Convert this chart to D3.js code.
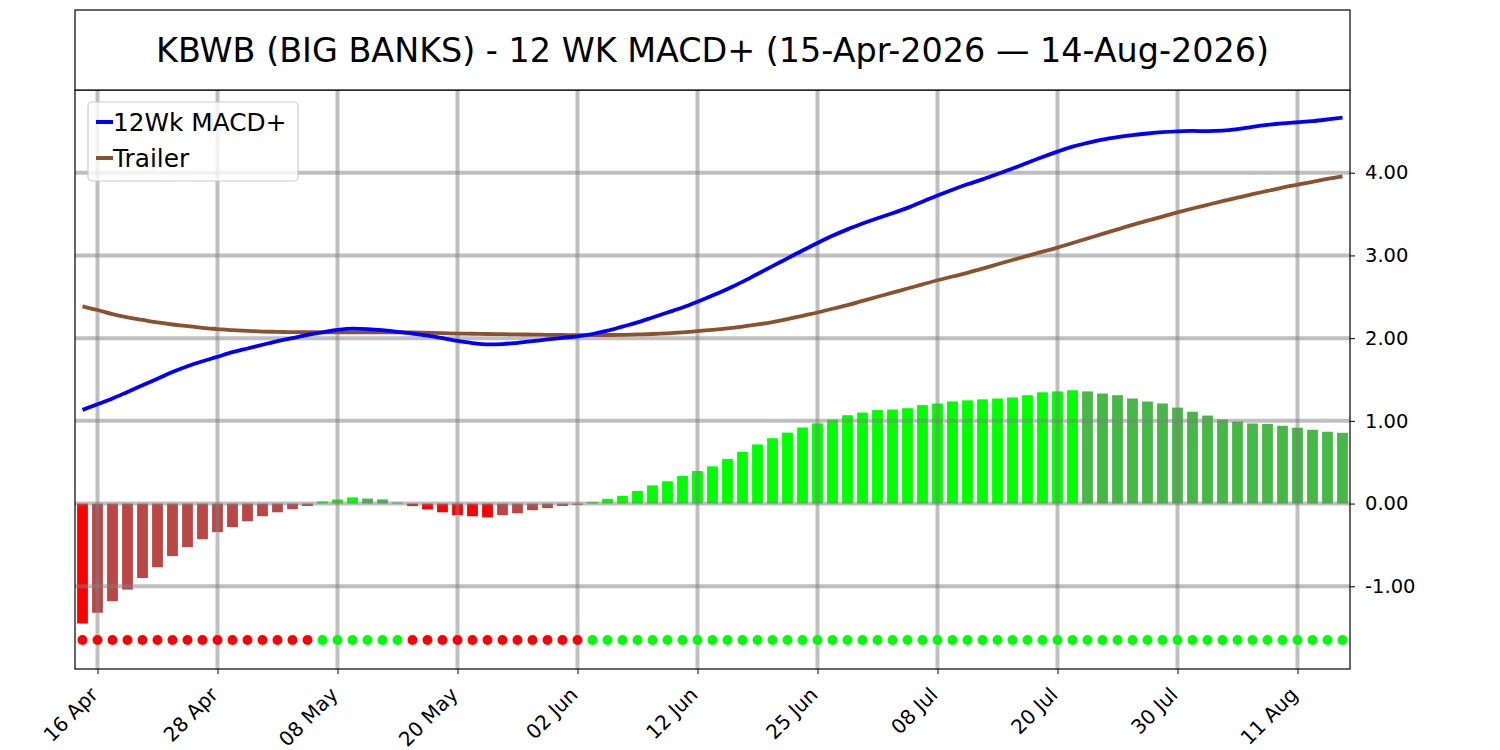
<!DOCTYPE html>
<html>
<head>
<meta charset="utf-8">
<script src="https://cdn.jsdelivr.net/npm/d3@7"></script>
<style>
  body { margin: 0; background: #ffffff; }
  svg { font-family: "DejaVu Sans", sans-serif; }
</style>
</head>
<body>
<div class="vis-holder"></div>
<script>
// chart title
var title = "KBWB (BIG BANKS) - 12 WK MACD+ (15-Apr-2026 \u2014 14-Aug-2026)";

// x ticks sit on trading-day positions (bar index)
var tickIdx = [1, 9, 17, 25, 33, 41, 49, 57, 65, 73, 81];
var tickLabels = ["16 Apr", "28 Apr", "08 May", "20 May", "02 Jun", "12 Jun",
                  "25 Jun", "08 Jul", "20 Jul", "30 Jul", "11 Aug"];

// y ticks on the right axis
var yTicks = [-1, 0, 1, 2, 3, 4];

// histogram bars, one per trading day (15 Apr .. 14 Aug)
var hist = [
  -1.45, -1.32, -1.18, -1.04, -0.90, -0.77, -0.635, -0.526, -0.43, -0.345,
  -0.285, -0.213, -0.153, -0.105, -0.068, -0.03, 0.025, 0.05, 0.075, 0.06,
  0.05, 0.013, -0.03, -0.07, -0.105, -0.14, -0.153, -0.165, -0.14, -0.117,
  -0.08, -0.055, -0.03, -0.015, 0.02, 0.057, 0.094, 0.153, 0.22, 0.27,
  0.333, 0.394, 0.45, 0.54, 0.625, 0.715, 0.79, 0.858, 0.92, 0.97,
  1.016, 1.068, 1.10, 1.13, 1.137, 1.153, 1.19, 1.21, 1.235, 1.248,
  1.26, 1.27, 1.283, 1.31, 1.345, 1.356, 1.37, 1.356, 1.33, 1.31,
  1.27, 1.234, 1.21, 1.16, 1.11, 1.064, 1.016, 0.992, 0.968, 0.963,
  0.94, 0.917, 0.892, 0.868, 0.856
];

// 12Wk MACD+ line
var macd = [
  1.133, 1.20, 1.27, 1.35, 1.43, 1.51, 1.59, 1.66, 1.72, 1.775,
  1.83, 1.875, 1.92, 1.965, 2.00, 2.04, 2.07, 2.10, 2.115, 2.11,
  2.096, 2.076, 2.055, 2.03, 2.00, 1.967, 1.94, 1.924, 1.928, 1.944,
  1.964, 1.984, 2.004, 2.022, 2.05, 2.09, 2.14, 2.19, 2.25, 2.31,
  2.37, 2.44, 2.515, 2.595, 2.68, 2.775, 2.87, 2.965, 3.06, 3.15,
  3.237, 3.315, 3.385, 3.45, 3.51, 3.575, 3.65, 3.725, 3.795, 3.86,
  3.92, 3.985, 4.05, 4.12, 4.19, 4.255, 4.315, 4.36, 4.4, 4.43,
  4.454, 4.474, 4.49, 4.50, 4.505, 4.503, 4.508, 4.526, 4.554, 4.578,
  4.596, 4.61, 4.624, 4.644, 4.666
];

// Trailer line
var trailer = [
  2.385, 2.34, 2.29, 2.25, 2.22, 2.19, 2.165, 2.145, 2.125, 2.11,
  2.096, 2.088, 2.08, 2.076, 2.072, 2.072, 2.07, 2.07, 2.07, 2.07,
  2.07, 2.07, 2.068, 2.064, 2.06, 2.055, 2.053, 2.05, 2.048, 2.045,
  2.043, 2.04, 2.038, 2.036, 2.037, 2.038, 2.04, 2.045, 2.05, 2.058,
  2.07, 2.085, 2.10, 2.118, 2.14, 2.165, 2.195, 2.23, 2.27, 2.31,
  2.355, 2.40, 2.45, 2.50, 2.55, 2.60, 2.65, 2.70, 2.745, 2.79,
  2.84, 2.893, 2.945, 2.995, 3.045, 3.095, 3.15, 3.205, 3.26, 3.315,
  3.37, 3.42, 3.47, 3.52, 3.567, 3.612, 3.656, 3.698, 3.74, 3.78,
  3.82, 3.855, 3.89, 3.925, 3.955
];

// level of the signal dots
var dotLevel = -1.65;

var width = 1500;
var height = 750;
var margin = { top: 90, bottom: 81, left: 75, right: 150 };

var svg = d3.select(".vis-holder")
            .append("svg")
            .attr("width", width)
            .attr("height", height);

svg.append("rect")
   .attr("width", width)
   .attr("height", height)
   .attr("fill", "#ffffff");

var xScale = d3.scaleLinear()
               .domain([-0.5, hist.length - 0.5])
               .range([margin.left, width - margin.right]);

var yScale = d3.scaleLinear()
               .domain([-2, 5])
               .range([height - margin.bottom, margin.top]);

// bar colour: bright when the bar moves away from zero, muted when it falls back
function barColor(d, i) {
  var prev = i > 0 ? hist[i - 1] : null;
  if (d >= 0) {
    return (prev === null || d > prev) ? "#00ff00" : "#45b845";
  }
  return (prev === null || d < prev) ? "#ff0000" : "#bb4646";
}

var barW = xScale(0.72) - xScale(0);

// histogram bars
svg.append("g")
   .selectAll("rect")
   .data(hist)
   .enter()
   .append("rect")
   .attr("x", function(d, i) { return xScale(i) - barW / 2; })
   .attr("y", function(d) { return yScale(Math.max(0, d)); })
   .attr("width", barW)
   .attr("height", function(d) { return Math.abs(yScale(d) - yScale(0)); })
   .attr("fill", barColor);

// grid lines, drawn over the bars like the original
var grid = svg.append("g")
              .attr("stroke", "#808080")
              .attr("stroke-opacity", 0.5)
              .attr("stroke-width", 4);

grid.selectAll("line.h")
    .data(yTicks)
    .enter()
    .append("line")
    .attr("class", "h")
    .attr("x1", margin.left)
    .attr("x2", width - margin.right)
    .attr("y1", function(d) { return yScale(d); })
    .attr("y2", function(d) { return yScale(d); });

grid.selectAll("line.v")
    .data(tickIdx)
    .enter()
    .append("line")
    .attr("class", "v")
    .attr("x1", function(d) { return xScale(d); })
    .attr("x2", function(d) { return xScale(d); })
    .attr("y1", margin.top)
    .attr("y2", height - margin.bottom);

// the two lines
var line = d3.line()
             .curve(d3.curveMonotoneX)
             .x(function(d, i) { return xScale(i); })
             .y(function(d) { return yScale(d); });

svg.append("path")
   .attr("d", line(trailer))
   .attr("fill", "none")
   .attr("stroke", "#8c522d")
   .attr("stroke-width", 3.8);

svg.append("path")
   .attr("d", line(macd))
   .attr("fill", "none")
   .attr("stroke", "#0000ff")
   .attr("stroke-width", 3.8);

// signal dots along the bottom
svg.append("g")
   .selectAll("circle")
   .data(hist)
   .enter()
   .append("circle")
   .attr("cx", function(d, i) { return xScale(i); })
   .attr("cy", yScale(dotLevel))
   .attr("r", 5)
   .attr("fill", function(d) { return d < 0 ? "#ff0000" : "#00ff00"; });

// frame of the plot
svg.append("rect")
   .attr("x", margin.left)
   .attr("y", margin.top)
   .attr("width", width - margin.left - margin.right)
   .attr("height", height - margin.top - margin.bottom)
   .attr("fill", "none")
   .attr("stroke", "#000000")
   .attr("stroke-width", 1.2);

// right y-axis
var yAxis = svg.append("g")
               .attr("transform", "translate(" + (width - margin.right) + ",0)")
               .call(d3.axisRight(yScale)
                       .tickValues(yTicks)
                       .tickSize(5)
                       .tickPadding(10)
                       .tickFormat(function(d) { return d.toFixed(2); }));
yAxis.select(".domain").remove();
yAxis.selectAll("text")
     .attr("font-size", "19.5px")
     .attr("font-family", "DejaVu Sans")
     .attr("fill", "#000000");

// bottom x-axis with rotated date labels
var xAxis = svg.append("g")
               .attr("transform", "translate(0," + (height - margin.bottom) + ")")
               .call(d3.axisBottom(xScale)
                       .tickValues(tickIdx)
                       .tickSize(5)
                       .tickFormat(function(d, i) { return tickLabels[i]; }));
xAxis.select(".domain").remove();
xAxis.selectAll("text")
     .attr("font-size", "20px")
     .attr("font-family", "DejaVu Sans")
     .attr("fill", "#000000")
     .attr("text-anchor", "end")
     .attr("x", 0)
     .attr("y", 0)
     .attr("dy", 0)
     .attr("transform", "translate(1,27) rotate(-45)");

// legend
var legend = svg.append("g");
legend.append("rect")
      .attr("x", 88)
      .attr("y", 102)
      .attr("width", 210)
      .attr("height", 79)
      .attr("rx", 4)
      .attr("fill", "#ffffff")
      .attr("fill-opacity", 0.8)
      .attr("stroke", "#cccccc")
      .attr("stroke-width", 1.2);

var legendItems = [
  { label: "12Wk MACD+", color: "#0000ff" },
  { label: "Trailer", color: "#8c522d" }
];

legend.selectAll("line")
      .data(legendItems)
      .enter()
      .append("line")
      .attr("x1", 96)
      .attr("x2", 113)
      .attr("y1", function(d, i) { return 122 + i * 36; })
      .attr("y2", function(d, i) { return 122 + i * 36; })
      .attr("stroke", function(d) { return d.color; })
      .attr("stroke-width", 4);

legend.selectAll("text")
      .data(legendItems)
      .enter()
      .append("text")
      .attr("x", 113)
      .attr("y", function(d, i) { return 131 + i * 36; })
      .attr("font-size", "24.8px")
      .text(function(d) { return d.label; });

// title box
svg.append("rect")
   .attr("x", margin.left)
   .attr("y", 10)
   .attr("width", width - margin.left - margin.right)
   .attr("height", margin.top - 10)
   .attr("fill", "#ffffff")
   .attr("stroke", "#000000")
   .attr("stroke-width", 1.2);

svg.append("text")
   .attr("x", (margin.left + width - margin.right) / 2)
   .attr("y", 50)
   .attr("dy", "0.35em")
   .attr("text-anchor", "middle")
   .attr("font-size", "33.4px")
   .text(title);
</script>
</body>
</html>
